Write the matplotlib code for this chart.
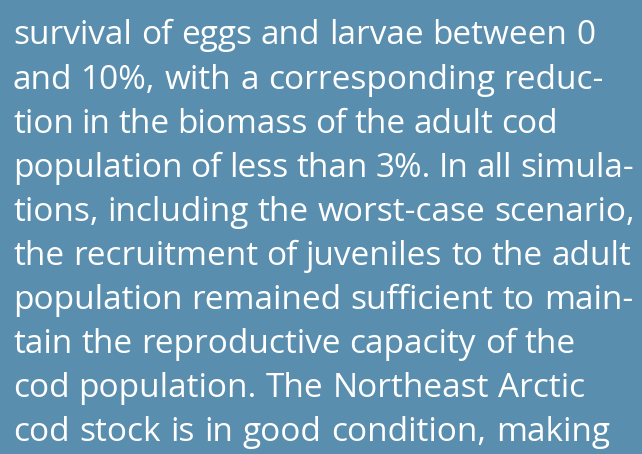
import matplotlib
matplotlib.use('Agg')
import matplotlib.pyplot as plt

lines = [
    "survival of eggs and larvae between 0",
    "and 10%, with a corresponding reduc-",
    "tion in the biomass of the adult cod",
    "population of less than 3%. In all simula-",
    "tions, including the worst-case scenario,",
    "the recruitment of juveniles to the adult",
    "population remained sufficient to main-",
    "tain the reproductive capacity of the",
    "cod population. The Northeast Arctic",
    "cod stock is in good condition, making",
]

# layout: right edge (px) of each line in the original text block
line_right = [595, 604, 558, 634, 635, 631, 633, 576, 585, 610]

W, H = 642, 454
fig = plt.figure(figsize=(W / 100, H / 100), dpi=100)
fig.patch.set_facecolor('#598eae')
fig.canvas.draw()
renderer = fig.canvas.get_renderer()

left = 13
first_baseline = 44.5
spacing = 44.1
for i, line in enumerate(lines):
    y = 1 - (first_baseline + i * spacing) / H
    words = line.split(' ')
    texts = [fig.text(0, y, w, color='white', fontsize=24, family='Open Sans',
                      va='baseline', ha='left') for w in words]
    widths = [t.get_window_extent(renderer).width for t in texts]
    gap = (line_right[i] - left - sum(widths)) / (len(words) - 1)
    print(i, round(gap, 1))
    x = left
    for t, w in zip(texts, widths):
        t.set_x(x / W)
        x += w + gap

fig.savefig('out.png', dpi=100, facecolor=fig.get_facecolor())
